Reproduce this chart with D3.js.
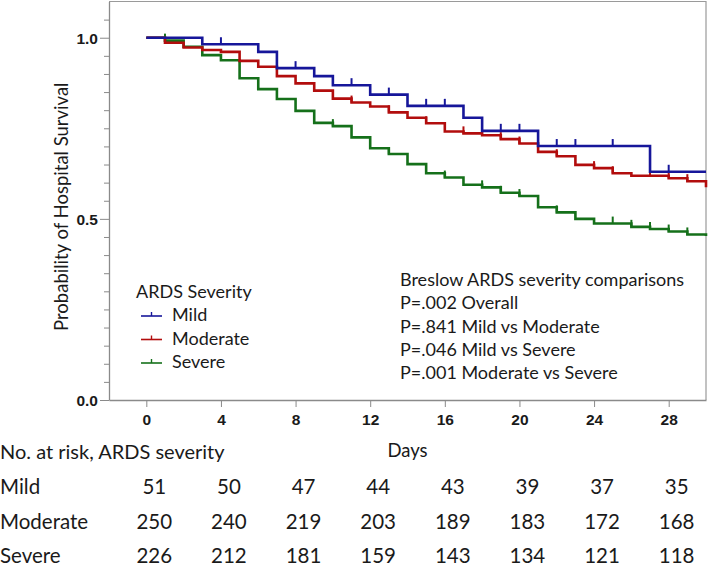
<!DOCTYPE html>
<html>
<head>
<meta charset="utf-8">
<script src="https://cdn.jsdelivr.net/npm/d3@7"></script>
<style>
  body { margin: 0; background: #fff; }
  text { font-family: Lato, "Open Sans", sans-serif; fill: #1a1a1a; }
  .tickText { font-family: "Liberation Sans", Arial, sans-serif; font-weight: bold; font-size: 15.5px; }
</style>
</head>
<body>
<div class="chart"></div>
<script>
var svgWidth = 709;
var svgHeight = 567;

// survival curves (day, probability)
var mildDays = [0, 3, 6, 7, 9, 10, 12, 14, 17, 18, 21, 27, 30];
var mildSurv = [1.0, 0.982, 0.961, 0.916, 0.894, 0.869, 0.843, 0.812, 0.779, 0.743, 0.701, 0.630, 0.630];
var mildCensor = [4, 8, 11, 13, 15, 16, 19, 20, 22, 23, 25, 28];

var moderateDays = [0, 1, 2, 3, 4, 5, 6, 7, 8, 9, 10, 11, 12, 13, 14, 15, 16, 17, 18, 19, 20, 21, 22, 23, 24, 25, 26, 27, 28, 29, 30];
var moderateSurv = [1.0, 0.986, 0.973, 0.966, 0.961, 0.936, 0.920, 0.894, 0.874, 0.854, 0.832, 0.821, 0.810, 0.794, 0.779, 0.764, 0.741, 0.736, 0.731, 0.720, 0.708, 0.685, 0.673, 0.649, 0.640, 0.626, 0.619, 0.619, 0.612, 0.604, 0.587];
var moderateCensor = [11, 13, 15, 17, 19, 20, 22, 24, 25, 27, 28, 29];

var severeDays = [0, 1, 2, 3, 4, 5, 6, 7, 8, 9, 10, 11, 12, 13, 14, 15, 16, 17, 18, 19, 20, 21, 22, 23, 24, 25, 26, 27, 28, 29, 30];
var severeSurv = [1.0, 0.992, 0.975, 0.952, 0.938, 0.888, 0.858, 0.831, 0.798, 0.765, 0.756, 0.725, 0.695, 0.679, 0.651, 0.626, 0.614, 0.594, 0.587, 0.572, 0.563, 0.532, 0.518, 0.500, 0.487, 0.487, 0.478, 0.472, 0.465, 0.457, 0.453];
var severeCensor = [1, 10, 13, 16, 18, 19, 20, 22, 25, 26, 27, 28, 29];

var groupNames = ["Mild", "Moderate", "Severe"];
var groupColors = ["#16169a", "#b20d0d", "#15701a"];

var xTicks = [0, 4, 8, 12, 16, 20, 24, 28];
var yMajor = [0, 0.5, 1.0];

// number at risk table
var riskMild = [51, 50, 47, 44, 43, 39, 37, 35];
var riskModerate = [250, 240, 219, 203, 189, 183, 172, 168];
var riskSevere = [226, 212, 181, 159, 143, 134, 121, 118];

var pValues = [
  "Breslow ARDS severity comparisons",
  "P=.002 Overall",
  "P=.841 Mild vs Moderate",
  "P=.046 Mild vs Severe",
  "P=.001 Moderate vs Severe"
];

var svg = d3.select(".chart")
  .append("svg")
  .attr("width", svgWidth)
  .attr("height", svgHeight);

var xScale = d3.scaleLinear().domain([-2, 30]).range([109, 706]);
var yScale = d3.scaleLinear().domain([0, 1.1]).range([400, 1.5]);

var axisColor = "#8a8a8a";

// frame (top + right)
svg.append("path")
  .attr("d", `M${xScale(-2)},${yScale(1.1)}H${xScale(30)}V${yScale(0)}`)
  .attr("fill", "none")
  .attr("stroke", "#9a9a9a")
  .attr("stroke-width", 1.2);

// y axis
var yTickVals = d3.range(0, 22).map(i => +(i * 0.05).toFixed(2));
var yAxis = svg.append("g")
  .attr("transform", `translate(${xScale(-2)},0)`)
  .call(d3.axisLeft(yScale)
    .tickValues(yTickVals)
    .tickSize(5)
    .tickSizeOuter(0)
    .tickFormat(d => yMajor.indexOf(d) >= 0 ? d3.format(".1f")(d) : ""));
yAxis.select(".domain").attr("stroke", axisColor).attr("stroke-width", 1.3);
yAxis.selectAll(".tick line").attr("stroke", axisColor).attr("stroke-width", 1)
  .attr("x2", d => yMajor.indexOf(d) >= 0 ? -9 : -5);
yAxis.selectAll(".tick text")
  .attr("class", "tickText")
  .attr("x", -11)
  .attr("dy", "0.36em");

// x axis
var xAxis = svg.append("g")
  .attr("transform", `translate(0,${yScale(0)})`)
  .call(d3.axisBottom(xScale)
    .tickValues(xTicks)
    .tickSize(7)
    .tickSizeOuter(0));
xAxis.select(".domain").attr("stroke", axisColor).attr("stroke-width", 1.3);
xAxis.selectAll(".tick line").attr("stroke", axisColor);
xAxis.selectAll(".tick text")
  .attr("class", "tickText")
  .attr("y", 14)
  .attr("dy", "0.71em");

// y title
svg.append("text")
  .attr("transform", `translate(68,${(yScale(0) + yScale(1.1)) / 2 + 6}) rotate(-90)`)
  .attr("text-anchor", "middle")
  .style("font-size", "18.5px")
  .text("Probability of Hospital Survival");

// curves
var series = [
  { days: mildDays, surv: mildSurv, censor: mildCensor },
  { days: moderateDays, surv: moderateSurv, censor: moderateCensor },
  { days: severeDays, surv: severeSurv, censor: severeCensor }
];

var stepLine = d3.line()
  .x(d => xScale(d[0]))
  .y(d => yScale(d[1]))
  .curve(d3.curveStepAfter);

function survAt(s, t) {
  var v = s.surv[0];
  for (var i = 0; i < s.days.length; i++) {
    if (s.days[i] <= t) v = s.surv[i];
  }
  return v;
}

// draw severe first so mild sits on top
[2, 1, 0].forEach(function (gi) {
  var s = series[gi];
  var pts = s.days.map((d, i) => [d, s.surv[i]]);
  svg.append("path")
    .datum(pts)
    .attr("d", stepLine)
    .attr("fill", "none")
    .attr("stroke", groupColors[gi])
    .attr("stroke-width", 2.6);

  svg.selectAll(null)
    .data(s.censor)
    .enter()
    .append("line")
    .attr("x1", d => xScale(d))
    .attr("x2", d => xScale(d))
    .attr("y1", d => yScale(survAt(s, d)))
    .attr("y2", d => yScale(survAt(s, d)) - 7)
    .attr("stroke", groupColors[gi])
    .attr("stroke-width", 2);
});

// legend
var legend = svg.append("g");
legend.append("text")
  .attr("x", 136)
  .attr("y", 298)
  .style("font-size", "18px")
  .text("ARDS Severity");

groupNames.forEach(function (name, i) {
  var ly = 316 + i * 23.5;
  legend.append("line")
    .attr("x1", 141).attr("x2", 162)
    .attr("y1", ly).attr("y2", ly)
    .attr("stroke", groupColors[i])
    .attr("stroke-width", 1.6);
  legend.append("line")
    .attr("x1", 151.5).attr("x2", 151.5)
    .attr("y1", ly).attr("y2", ly - 4)
    .attr("stroke", groupColors[i])
    .attr("stroke-width", 1.4);
  legend.append("text")
    .attr("x", 172)
    .attr("y", ly + 5)
    .style("font-size", "18px")
    .text(name);
});

// p values
svg.selectAll(".ptext")
  .data(pValues)
  .enter()
  .append("text")
  .attr("class", "ptext")
  .attr("x", 400)
  .attr("y", (d, i) => 286 + i * 23.3)
  .style("font-size", "18px")
  .text(d => d);

// x title
svg.append("text")
  .attr("x", (xScale(-2) + xScale(30)) / 2)
  .attr("y", 457)
  .attr("text-anchor", "middle")
  .style("font-size", "18.5px")
  .text("Days");

// risk table
svg.append("text")
  .attr("x", 0)
  .attr("y", 459)
  .style("font-size", "20px")
  .text("No. at risk, ARDS severity");

var riskRows = [riskMild, riskModerate, riskSevere];
riskRows.forEach(function (row, i) {
  var ry = 494 + i * 34.5;
  svg.append("text")
    .attr("x", 0)
    .attr("y", ry)
    .style("font-size", "20.5px")
    .text(groupNames[i]);
  svg.selectAll(null)
    .data(row)
    .enter()
    .append("text")
    .attr("x", (d, j) => xScale(xTicks[j]) + 8)
    .attr("y", ry)
    .attr("text-anchor", "middle")
    .style("font-size", "20.5px")
    .text(d => d);
});
</script>
</body>
</html>
